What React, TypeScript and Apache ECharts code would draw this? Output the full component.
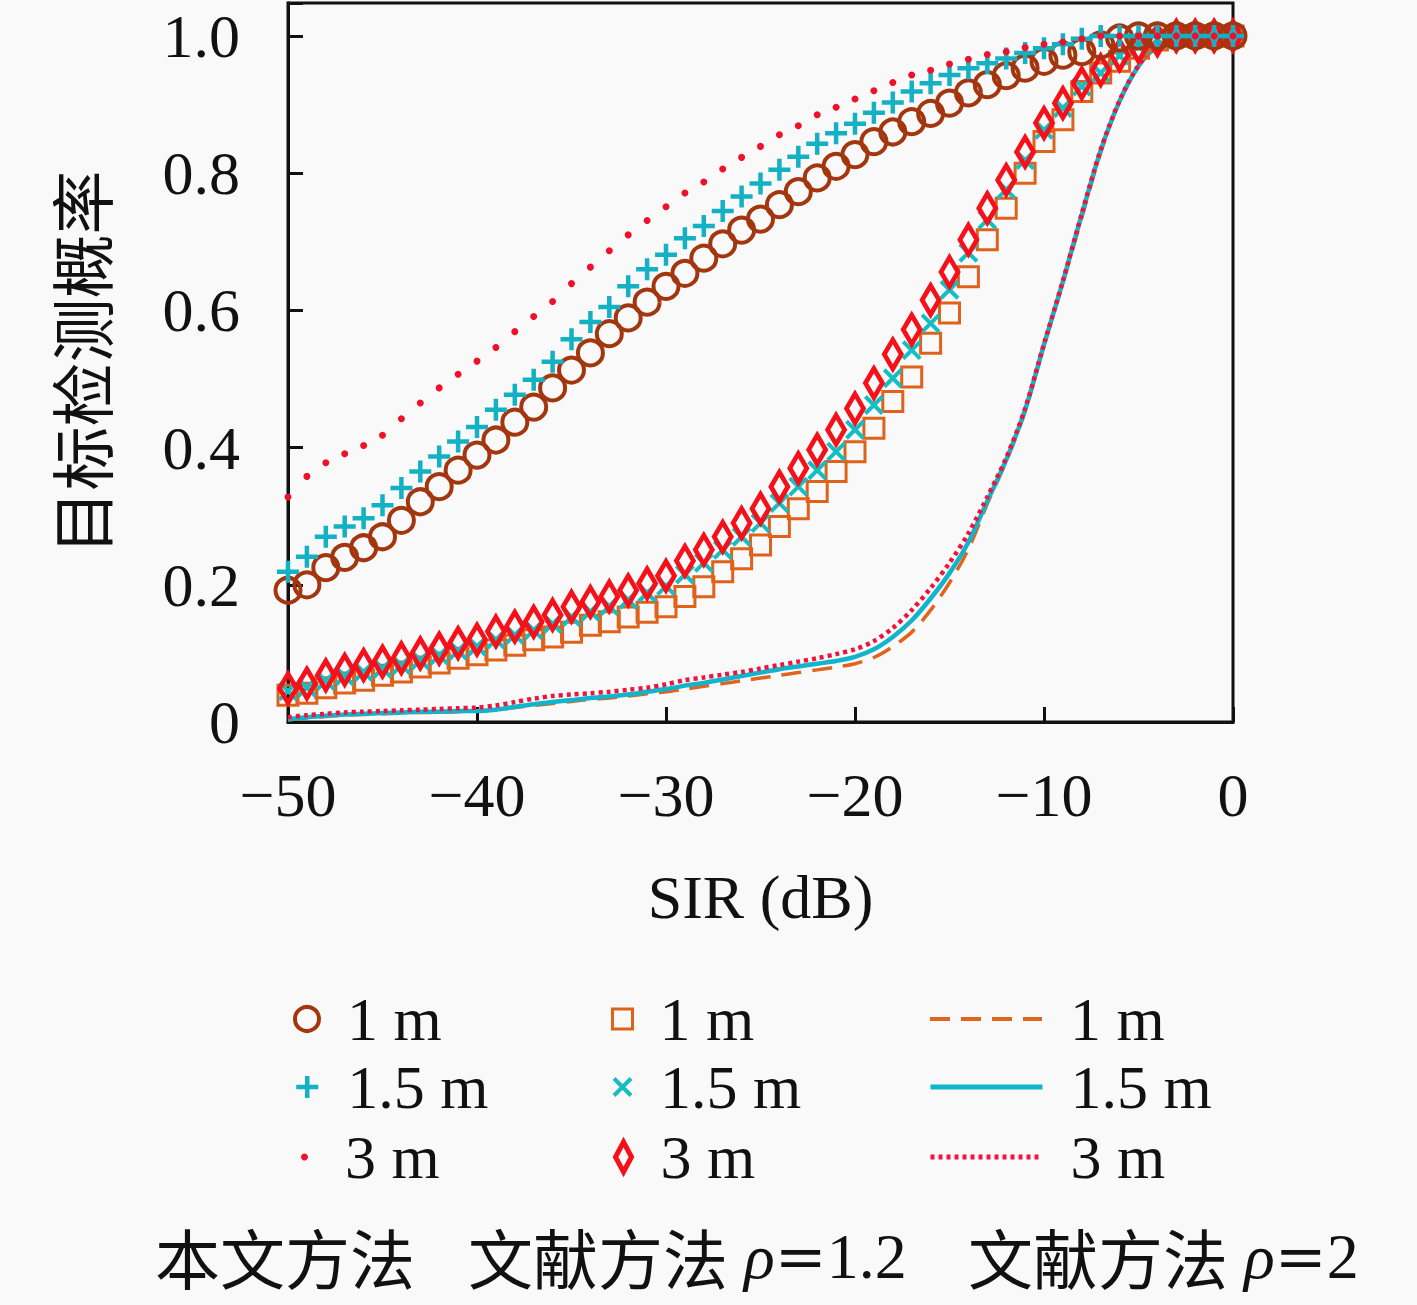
import React, { useEffect, useRef } from 'react';
import * as echarts from 'echarts';

// SIR (dB) sample points
const SIR = [
  -50, -49, -48, -47, -46, -45, -44, -43, -42, -41,
  -40, -39, -38, -37, -36, -35, -34, -33, -32, -31,
  -30, -29, -28, -27, -26, -25, -24, -23, -22, -21,
  -20, -19, -18, -17, -16, -15, -14, -13, -12, -11,
  -10, -9, -8, -7, -6, -5, -4, -3, -2, -1, 0,
];

// 本文方法
const OWN_1M = [
  0.192, 0.2, 0.225, 0.24, 0.254, 0.27, 0.294, 0.321, 0.343, 0.367,
  0.389, 0.411, 0.437, 0.459, 0.487, 0.513, 0.538, 0.566, 0.589, 0.612,
  0.635, 0.654, 0.676, 0.697, 0.717, 0.733, 0.754, 0.773, 0.793, 0.81,
  0.827, 0.846, 0.86, 0.875, 0.887, 0.902, 0.917, 0.929, 0.942, 0.953,
  0.963, 0.972, 0.977, 0.987, 0.997, 1.0, 1.0, 1.0, 1.0, 1.0, 1.0,
];
const OWN_15M = [
  0.219, 0.241, 0.27, 0.285, 0.297, 0.316, 0.341, 0.365, 0.387, 0.409,
  0.43, 0.455, 0.477, 0.499, 0.525, 0.558, 0.583, 0.605, 0.635, 0.66,
  0.681, 0.705, 0.723, 0.745, 0.766, 0.785, 0.805, 0.824, 0.843, 0.858,
  0.872, 0.888, 0.903, 0.919, 0.931, 0.943, 0.953, 0.96, 0.967, 0.975,
  0.982, 0.988, 0.996, 1.0, 1.0, 1.0, 1.0, 1.0, 1.0, 1.0, 1.0,
];
const OWN_3M = [
  0.328, 0.358, 0.378, 0.391, 0.403, 0.418, 0.442, 0.465, 0.487, 0.507,
  0.526, 0.546, 0.569, 0.591, 0.613, 0.639, 0.663, 0.687, 0.71, 0.731,
  0.751, 0.771, 0.787, 0.806, 0.823, 0.839, 0.856, 0.869, 0.885, 0.896,
  0.908, 0.92, 0.932, 0.943, 0.95, 0.959, 0.966, 0.973, 0.977, 0.983,
  0.988, 0.991, 0.996, 1.0, 1.0, 1.0, 1.0, 1.0, 1.0, 1.0, 1.0,
];

// 文献方法 ρ=1.2
const LIT12_1M = [
  0.039, 0.042, 0.05, 0.057, 0.061, 0.068, 0.073, 0.08, 0.086, 0.093,
  0.098, 0.105, 0.112, 0.12, 0.124, 0.131, 0.141, 0.146, 0.153, 0.16,
  0.168, 0.183, 0.197, 0.219, 0.238, 0.258, 0.285, 0.311, 0.336, 0.365,
  0.394, 0.428, 0.467, 0.503, 0.552, 0.596, 0.649, 0.703, 0.749, 0.8,
  0.846, 0.878, 0.919, 0.946, 0.963, 0.982, 0.994, 1.0, 1.0, 1.0, 1.0,
];
const LIT12_15M = [
  0.045, 0.05, 0.06, 0.067, 0.073, 0.078, 0.083, 0.09, 0.097, 0.104,
  0.11, 0.12, 0.127, 0.134, 0.143, 0.153, 0.161, 0.169, 0.178, 0.188,
  0.198, 0.215, 0.232, 0.251, 0.27, 0.29, 0.319, 0.343, 0.367, 0.394,
  0.426, 0.462, 0.501, 0.542, 0.581, 0.63, 0.684, 0.732, 0.776, 0.819,
  0.863, 0.895, 0.926, 0.946, 0.971, 0.985, 0.995, 1.0, 1.0, 1.0, 1.0,
];
const LIT12_3M = [
  0.049, 0.056, 0.068, 0.076, 0.083, 0.088, 0.093, 0.1, 0.107, 0.115,
  0.12, 0.132, 0.139, 0.146, 0.156, 0.168, 0.175, 0.183, 0.192, 0.202,
  0.213, 0.235, 0.251, 0.27, 0.29, 0.311, 0.343, 0.37, 0.397, 0.426,
  0.457, 0.494, 0.536, 0.572, 0.615, 0.656, 0.703, 0.749, 0.79, 0.831,
  0.873, 0.902, 0.931, 0.95, 0.972, 0.984, 0.994, 1.0, 1.0, 1.0, 1.0,
];

// 文献方法 ρ=2
const LIT2_1M = [
  0.003, 0.006, 0.008, 0.01, 0.011, 0.012, 0.013, 0.014, 0.014, 0.015,
  0.016, 0.018, 0.021, 0.024, 0.027, 0.03, 0.033, 0.035, 0.038, 0.041,
  0.044, 0.048, 0.052, 0.056, 0.06, 0.064, 0.068, 0.072, 0.076, 0.08,
  0.085, 0.094, 0.11, 0.131, 0.163, 0.203, 0.252, 0.318, 0.38, 0.453,
  0.549, 0.64, 0.735, 0.83, 0.905, 0.957, 0.985, 0.997, 1.0, 1.0, 1.0,
];
const LIT2_15M = [
  0.004, 0.007, 0.009, 0.011, 0.012, 0.013, 0.014, 0.015, 0.015, 0.016,
  0.016, 0.018, 0.022, 0.026, 0.029, 0.032, 0.035, 0.037, 0.04, 0.044,
  0.048, 0.053, 0.057, 0.062, 0.067, 0.072, 0.077, 0.081, 0.085, 0.089,
  0.095, 0.106, 0.124, 0.148, 0.18, 0.217, 0.262, 0.322, 0.382, 0.455,
  0.55, 0.642, 0.74, 0.833, 0.905, 0.956, 0.985, 0.997, 1.0, 1.0, 1.0,
];
const LIT2_3M = [
  0.007, 0.01, 0.012, 0.014, 0.015, 0.016, 0.017, 0.018, 0.019, 0.02,
  0.021, 0.024, 0.029, 0.034, 0.038, 0.04, 0.042, 0.044, 0.047, 0.05,
  0.055, 0.061, 0.065, 0.069, 0.073, 0.078, 0.083, 0.088, 0.093, 0.099,
  0.106, 0.118, 0.137, 0.163, 0.195, 0.232, 0.275, 0.328, 0.385, 0.457,
  0.551, 0.643, 0.741, 0.834, 0.906, 0.957, 0.985, 0.997, 1.0, 1.0, 1.0,
];

const X_TICKS = [-50, -40, -30, -20, -10, 0];
const Y_TICKS = [0, 0.2, 0.4, 0.6, 0.8, 1.0];

const ZW = '\u200b';
const N_OWN_1 = '1 m';
const N_OWN_15 = '1.5 m';
const N_OWN_3 = '3 m';
const N_L12_1 = '1 m' + ZW;
const N_L12_15 = '1.5 m' + ZW;
const N_L12_3 = '3 m' + ZW;
const N_L2_1 = '1 m' + ZW + ZW;
const N_L2_15 = '1.5 m' + ZW + ZW;
const N_L2_3 = '3 m' + ZW + ZW;

const FONT = '"Liberation Serif", "DejaVu Serif", serif';
const FONT_EQ = '"DejaVu Serif", serif';
const CJK = '"Noto Sans CJK SC", "Noto Sans CJK JP", sans-serif';
const INK = '#111111';

const C_CIRCLE = '#A3360E';
const C_PLUS = '#14B0C4';
const C_DOT = '#F0102A';
const C_SQ = '#E0621A';
const C_X = '#14BEC2';
const C_DIA = '#F5101A';
const C_DASH = '#E0641E';
const C_SOLID = '#10B4CC';
const C_DOTTED = '#F0143C';

const DASH_TYPE = [20, 11];
const DOT_TYPE = [4, 4];

const PLUS_PATH = 'path://M0,-10L0,10M-10,0L10,0';
const X_PATH = 'path://M-10,-10L10,10M-10,10L10,-10';

const pairs = (ys: number[]) => SIR.map((x, i) => [x, ys[i]]);
const strip = (n: string) => n.replace(/\u200b/g, '');
const minus = (v: number) => (v < 0 ? '\u2212' + Math.abs(v) : String(v));

function legendItem(
  name: string, left: number, centerY: number, w: number, h: number, textLeft: number,
  itemStyle: any, lineStyle?: any,
) {
  const textH = 62;
  const item: any = {
    data: [name],
    left,
    top: centerY - textH / 2,
    orient: 'horizontal',
    padding: 0,
    itemWidth: w,
    itemHeight: h,
    selectedMode: false,
    formatter: strip,
    itemStyle,
    textStyle: {
      fontFamily: FONT,
      fontSize: 62,
      lineHeight: textH,
      color: INK,
      padding: [0, 0, 0, textLeft - left - w - 5],
    },
  };
  if (lineStyle) item.lineStyle = lineStyle;
  return item;
}

export default function App() {
  const ref = useRef<HTMLDivElement>(null);

  useEffect(() => {
    if (!ref.current) return;
    const chart = echarts.init(ref.current, undefined, { renderer: 'svg' });

    const hollow = (c: string, w: number) => ({
      color: 'rgba(0,0,0,0)', borderColor: c, borderWidth: w, opacity: 1,
    });
    const noSymbol = { opacity: 0, color: 'rgba(0,0,0,0)', borderWidth: 0 };
    const richStyle = {
      c: { fontFamily: CJK, fontSize: 65, lineHeight: 66, fill: INK },
      m: { fontFamily: FONT, fontStyle: 'italic', fontSize: 64, lineHeight: 66, fill: INK },
      e: { fontFamily: FONT_EQ, fontSize: 62, lineHeight: 66, fill: INK },
      n: { fontFamily: FONT, fontSize: 64, lineHeight: 66, fill: INK },
    };

    const option: any = {
      animation: false,
      backgroundColor: '#f9f9f9',
      grid: {
        left: 288,
        top: 3,
        width: 945,
        height: 719,
        show: true,
        borderColor: INK,
        borderWidth: 3,
        backgroundColor: 'rgba(0,0,0,0)',
      },
      xAxis: {
        type: 'value',
        min: X_TICKS[0],
        max: X_TICKS[X_TICKS.length - 1],
        interval: 10,
        name: 'SIR (dB)',
        nameLocation: 'middle',
        nameGap: 144,
        nameTextStyle: { fontFamily: FONT, fontSize: 62, color: INK },
        axisLine: { show: true, onZero: false, lineStyle: { color: INK, width: 3 } },
        axisTick: { show: true, inside: true, length: 15, lineStyle: { color: INK, width: 3 } },
        axisLabel: {
          margin: 42,
          fontFamily: FONT,
          fontSize: 62,
          color: INK,
          formatter: (v: number) => (X_TICKS.indexOf(v) >= 0 ? minus(v) : ''),
        },
        splitLine: { show: false },
      },
      yAxis: {
        type: 'value',
        min: 0,
        max: 1.048,
        interval: 0.2,
        name: '目标检测概率',
        nameLocation: 'middle',
        nameRotate: 90,
        nameGap: 177,
        nameTextStyle: { fontFamily: CJK, fontSize: 64, color: INK },
        axisLine: { show: true, onZero: false, lineStyle: { color: INK, width: 3 } },
        axisTick: { show: true, inside: true, length: 15, lineStyle: { color: INK, width: 3 } },
        axisLabel: {
          margin: 48,
          fontFamily: FONT,
          fontSize: 62,
          color: INK,
          formatter: (v: number) => {
            const t = Y_TICKS.find((k) => Math.abs(k - v) < 1e-6);
            if (t === undefined) return '';
            return t === 0 ? '0' : t.toFixed(1);
          },
        },
        splitLine: { show: false },
      },
      legend: [
        legendItem(N_OWN_1, 293, 1019, 24, 24, 345, hollow(C_CIRCLE, 4)),
        legendItem(N_OWN_15, 294, 1087, 22, 22, 345, hollow(C_PLUS, 4.5)),
        legendItem(N_OWN_3, 301, 1157, 7, 7, 345, { color: C_DOT, opacity: 1, borderWidth: 0 }),
        legendItem(N_L12_1, 611, 1019, 20, 20, 658, hollow(C_SQ, 3)),
        legendItem(N_L12_15, 612, 1087, 17, 17, 658, hollow(C_X, 4)),
        legendItem(N_L12_3, 613, 1157, 16, 30, 658, hollow(C_DIA, 5)),
        legendItem(N_L2_1, 928, 1019, 112, 14, 1068, noSymbol,
          { color: C_DASH, width: 4, type: DASH_TYPE, opacity: 1 }),
        legendItem(N_L2_15, 928, 1087, 112, 14, 1068, noSymbol,
          { color: C_SOLID, width: 5, type: 'solid', opacity: 1 }),
        legendItem(N_L2_3, 928, 1157, 112, 14, 1068, noSymbol,
          { color: C_DOTTED, width: 5, type: DOT_TYPE, opacity: 1 }),
      ],
      graphic: [
        {
          type: 'text',
          left: 155,
          top: 1223,
          style: { text: '本文方法', fontFamily: CJK, fontSize: 65, lineHeight: 66, fill: INK },
        },
        {
          type: 'text',
          left: 468,
          top: 1223,
          style: {
            text: '{c|文献方法} {m|ρ}{e|=}{n|1.2}',
            fontFamily: FONT,
            fontSize: 64,
            lineHeight: 66,
            fill: INK,
            rich: richStyle,
          },
        },
        {
          type: 'text',
          left: 968,
          top: 1223,
          style: {
            text: '{c|文献方法} {m|ρ}{e|=}{n|2}',
            fontFamily: FONT,
            fontSize: 64,
            lineHeight: 66,
            fill: INK,
            rich: richStyle,
          },
        },
      ],
      series: [
        {
          name: N_L2_1, type: 'line', data: pairs(LIT2_1M), symbol: 'none', showSymbol: false, smooth: 0.3,
          lineStyle: { color: C_DASH, width: 3.5, type: DASH_TYPE }, itemStyle: { color: C_DASH }, z: 2,
        },
        {
          name: N_L2_15, type: 'line', data: pairs(LIT2_15M), symbol: 'none', showSymbol: false, smooth: 0.3,
          lineStyle: { color: C_SOLID, width: 4.5, type: 'solid' }, itemStyle: { color: C_SOLID }, z: 2,
        },
        {
          name: N_L2_3, type: 'line', data: pairs(LIT2_3M), symbol: 'none', showSymbol: false, smooth: 0.3,
          lineStyle: { color: C_DOTTED, width: 4.5, type: DOT_TYPE }, itemStyle: { color: C_DOTTED }, z: 2,
        },
        {
          name: N_L12_1, type: 'scatter', data: pairs(LIT12_1M), symbol: 'rect', symbolSize: 20,
          itemStyle: hollow(C_SQ, 3), z: 3,
        },
        {
          name: N_L12_15, type: 'scatter', data: pairs(LIT12_15M), symbol: X_PATH, symbolSize: 17,
          itemStyle: hollow(C_X, 4), z: 3,
        },
        {
          name: N_L12_3, type: 'scatter', data: pairs(LIT12_3M), symbol: 'diamond', symbolSize: [17, 29],
          itemStyle: hollow(C_DIA, 5), z: 3,
        },
        {
          name: N_OWN_1, type: 'scatter', data: pairs(OWN_1M), symbol: 'circle', symbolSize: 25,
          itemStyle: hollow(C_CIRCLE, 4), z: 3,
        },
        {
          name: N_OWN_15, type: 'scatter', data: pairs(OWN_15M), symbol: PLUS_PATH, symbolSize: 22,
          itemStyle: hollow(C_PLUS, 4.5), z: 3,
        },
        {
          name: N_OWN_3, type: 'scatter', data: pairs(OWN_3M), symbol: 'circle', symbolSize: 7,
          itemStyle: { color: C_DOT, opacity: 1 }, z: 3,
        },
      ],
    };

    chart.setOption(option);
    return () => chart.dispose();
  }, []);

  return (
    <div
      ref={ref}
      style={{ position: 'fixed', left: 0, top: 0, width: 1417, height: 1305 }}
    />
  );
}
